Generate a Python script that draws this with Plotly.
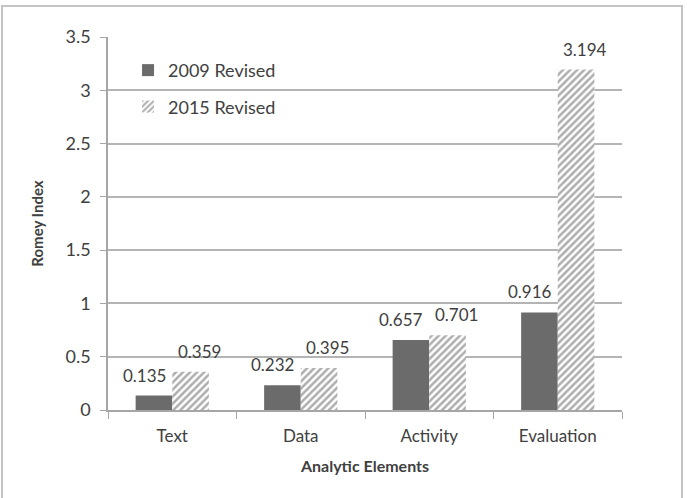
import plotly.graph_objects as go

categories = ["Text", "Data", "Activity", "Evaluation"]
vals_2009 = [0.135, 0.232, 0.657, 0.916]
vals_2015 = [0.359, 0.395, 0.701, 3.194]
labels_2009 = ["0.135", "0.232", "0.657", "0.916"]
labels_2015 = ["0.359", "0.395", "0.701", "3.194"]
y_ticks = [0, 0.5, 1, 1.5, 2, 2.5, 3, 3.5]
y_tick_text = ["0", "0.5", "1", "1.5", "2", "2.5", "3", "3.5"]

FONT = "Lato, 'Open Sans', sans-serif"
TXT = "#404040"

fig = go.Figure()
fig.add_trace(go.Bar(
    x=categories, y=vals_2009, name="2009 Revised",
    marker=dict(color="#6b6b6b", line=dict(width=0)),
    legendgroup="a",
))
fig.add_trace(go.Bar(
    x=categories, y=vals_2015, name="2015 Revised",
    marker=dict(color="white", line=dict(width=0),
                pattern=dict(shape="/", fgcolor="#5c5c5c", bgcolor="white",
                             size=5, solidity=0.5)),
    legendgroup="b",
))

# data labels placed from the data arrays (category + value), offset by style shifts
for labels, vals, dx in ((labels_2009, vals_2009, -28), (labels_2015, vals_2015, 27)):
    for c, v, t in zip(categories, vals, labels):
        fig.add_annotation(x=c, y=v, xref="x", yref="y", text=t, showarrow=False,
                           xshift=dx, yshift=8, yanchor="bottom",
                           font=dict(size=17, color=TXT, family=FONT))

W, H = 687, 498
ml, mr, mt, mb = 108, 65, 37, 88
pw, ph = W - ml - mr, H - mt - mb

fig.update_layout(
    width=W, height=H,
    margin=dict(l=ml, r=mr, t=mt, b=mb),
    paper_bgcolor="white", plot_bgcolor="white",
    barmode="group", bargap=0.43, bargroupgap=0,
    font=dict(family=FONT, color=TXT, size=16),
    showlegend=True,
    legend=dict(x=0.039, y=0.96, xanchor="left", yanchor="top",
                font=dict(size=18, color=TXT, family=FONT),
                bgcolor="rgba(0,0,0,0)", tracegroupgap=10,
                itemsizing="constant"),
    xaxis=dict(
        showline=True, linecolor="#a6a6a6", linewidth=1.5,
        ticks="outside", tickson="boundaries", ticklen=7, tickcolor="#a6a6a6",
        ticklabelstandoff=10,
        tickfont=dict(size=17, color=TXT, family=FONT),
        title=dict(text="<b>Analytic Elements</b>", standoff=16,
                   font=dict(size=16, color=TXT, family=FONT)),
        showgrid=False,
    ),
    yaxis=dict(
        range=[0, 3.5], tickvals=y_ticks, ticktext=y_tick_text,
        showline=True, linecolor="#a6a6a6", linewidth=1.5,
        ticks="outside", ticklen=6, tickcolor="#a6a6a6",
        ticklabelstandoff=6,
        showgrid=True, gridcolor="#b4b4b4", gridwidth=1.5,
        zeroline=False,
        tickfont=dict(size=18, color=TXT, family=FONT),
        title=dict(text="<b>Romey Index</b>", standoff=18,
                   font=dict(size=15, color=TXT, family=FONT)),
    ),
)

# outer chart border (pixel positions converted to paper coords)
fig.add_shape(type="rect", xref="paper", yref="paper",
              x0=(2 - ml) / pw, x1=(682 - ml) / pw,
              y0=(H - mb - 520) / ph, y1=(H - mb - 6) / ph,
              line=dict(color="#c4c4c4", width=2), layer="below")

fig.write_html("out.html")
